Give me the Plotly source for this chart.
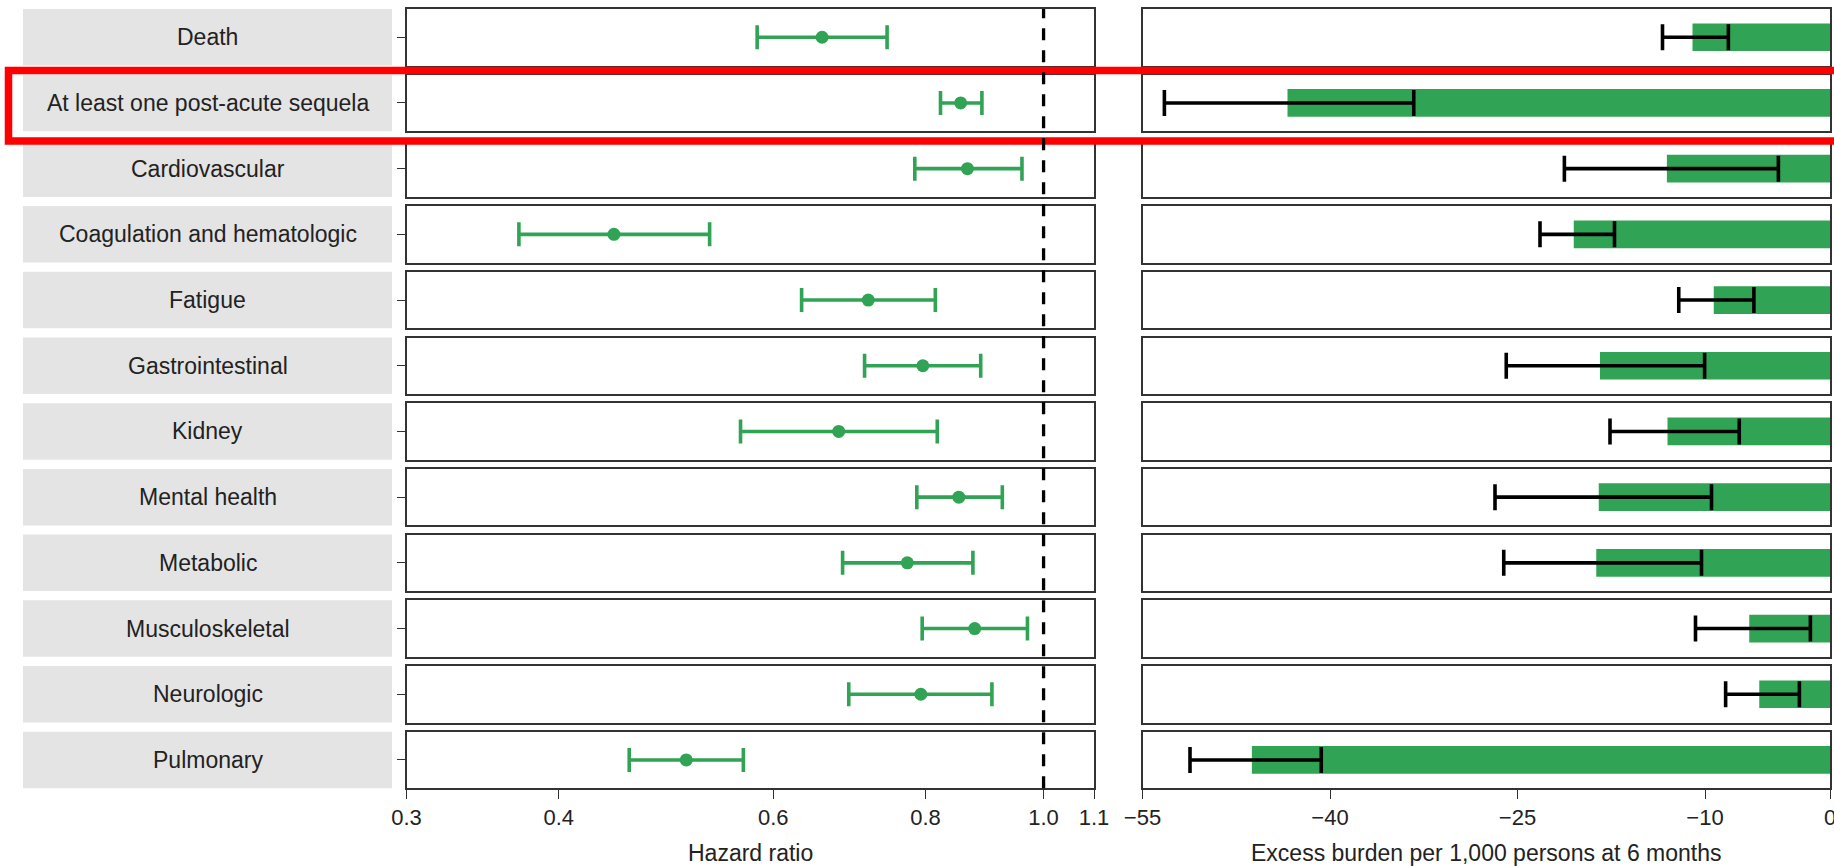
import math
import plotly.graph_objects as go

# ---------------- data ----------------
categories = [
    "Death",
    "At least one post-acute sequela",
    "Cardiovascular",
    "Coagulation and hematologic",
    "Fatigue",
    "Gastrointestinal",
    "Kidney",
    "Mental health",
    "Metabolic",
    "Musculoskeletal",
    "Neurologic",
    "Pulmonary",
]
hr_est = [0.658, 0.855, 0.866, 0.444, 0.718, 0.796, 0.679, 0.852, 0.773, 0.878, 0.793, 0.509]
hr_lo = [0.582, 0.823, 0.784, 0.371, 0.633, 0.713, 0.564, 0.787, 0.684, 0.795, 0.692, 0.457]
hr_hi = [0.744, 0.890, 0.960, 0.532, 0.815, 0.888, 0.818, 0.925, 0.875, 0.970, 0.907, 0.567]

eb_est = [-11.0, -43.4, -13.05, -20.5, -9.3, -18.4, -13.0, -18.5, -18.7, -6.46, -5.66, -46.25]
eb_lo = [-13.4, -53.25, -21.25, -23.2, -12.1, -25.9, -17.6, -26.8, -26.1, -10.76, -8.35, -51.2]
eb_hi = [-8.13, -33.3, -4.13, -17.24, -6.09, -10.03, -7.26, -9.48, -10.28, -1.57, -2.45, -40.7]

hr_ticks = [0.3, 0.4, 0.6, 0.8, 1.0, 1.1]
hr_ticktext = ["0.3", "0.4", "0.6", "0.8", "1.0", "1.1"]
eb_ticks = [-55, -40, -25, -10, 0]
eb_ticktext = ["\u221255", "\u221240", "\u221225", "\u221210", "0"]
hr_range = [0.3, 1.1]
eb_range = [-55, 0]
hr_ref = 1.0
highlight = "At least one post-acute sequela"

# ---------------- styling / layout ----------------
W, H = 1834, 866
GREEN = "#31a354"
FONT = "Liberation Sans, Arial, Helvetica, sans-serif"
TXT = "#222222"
LINE = "#333333"


def px_x(p):
    return p / W


def px_y(p):
    return 1 - p / H


TOP0, PITCH, PH = 9.0, 65.7, 56.5
LEFT_PX = (406.5, 1094.0)
RIGHT_PX = (1142.5, 1830.0)
STRIP_PX = (23.0, 392.0)

fig = go.Figure()
layout = dict(
    template="none",
    width=W,
    height=H,
    margin=dict(l=0, r=0, t=0, b=0, pad=0),
    paper_bgcolor="white",
    plot_bgcolor="white",
    showlegend=False,
    font=dict(family=FONT, size=22, color=TXT),
)
shapes = []
annotations = []
n = len(categories)
for i, cat in enumerate(categories):
    top = TOP0 + i * PITCH
    ydom = [px_y(top + PH), px_y(top)]
    ia, ib = 2 * i + 1, 2 * i + 2
    xa = "x" if ia == 1 else f"x{ia}"
    ya = "y" if ia == 1 else f"y{ia}"
    xb, yb = f"x{ib}", f"y{ib}"
    last = i == n - 1

    # hazard ratio point + CI
    fig.add_trace(go.Scatter(
        x=[hr_est[i]], y=[0], mode="markers",
        marker=dict(color=GREEN, size=13),
        error_x=dict(type="data", symmetric=False,
                     array=[hr_hi[i] - hr_est[i]],
                     arrayminus=[hr_est[i] - hr_lo[i]],
                     color=GREEN, thickness=3.6, width=12),
        xaxis=xa, yaxis=ya, hoverinfo="x",
    ))
    # excess burden bar + CI
    fig.add_trace(go.Bar(
        x=[eb_est[i]], y=[0], orientation="h", width=0.49,
        marker=dict(color=GREEN, line=dict(width=0)),
        error_x=dict(type="data", symmetric=False,
                     array=[eb_hi[i] - eb_est[i]],
                     arrayminus=[eb_est[i] - eb_lo[i]],
                     color="black", thickness=3.6, width=13),
        xaxis=xb, yaxis=yb, hoverinfo="x",
    ))

    common_x = dict(showline=True, mirror=True, linecolor=LINE, linewidth=1.5,
                    showgrid=False, zeroline=False, fixedrange=True, automargin=False,
                    ticklabeloverflow="allow")
    layout["xaxis" + ("" if ia == 1 else str(ia))] = dict(
        common_x, anchor=ya, domain=[px_x(LEFT_PX[0]), px_x(LEFT_PX[1])],
        type="log", range=[math.log10(hr_range[0]), math.log10(hr_range[1])],
        tickvals=hr_ticks, ticktext=hr_ticktext,
        ticks="outside" if last else "", ticklen=9, tickwidth=1.3, tickcolor=LINE,
        showticklabels=last,
        tickfont=dict(size=22, color=TXT, family=FONT),
    )
    layout[f"xaxis{ib}"] = dict(
        common_x, anchor=yb, domain=[px_x(RIGHT_PX[0]), px_x(RIGHT_PX[1])],
        range=eb_range, tickvals=eb_ticks, ticktext=eb_ticktext,
        ticks="outside" if last else "", ticklen=9, tickwidth=1.3, tickcolor=LINE,
        showticklabels=last,
        tickfont=dict(size=22, color=TXT, family=FONT),
    )
    layout["yaxis" + ("" if ia == 1 else str(ia))] = dict(
        anchor=xa, domain=ydom, range=[-0.5, 0.5], showgrid=False, zeroline=False,
        showline=True, mirror=True, linecolor=LINE, linewidth=1.5,
        tickvals=[0], ticks="outside", ticklen=8, tickwidth=1.3, tickcolor=LINE,
        showticklabels=False, fixedrange=True, automargin=False,
    )
    layout[f"yaxis{ib}"] = dict(
        anchor=xb, domain=ydom, range=[-0.5, 0.5], showgrid=False, zeroline=False,
        showline=True, mirror=True, linecolor=LINE, linewidth=1.5,
        ticks="", showticklabels=False, fixedrange=True, automargin=False,
    )

    # grey strip with category label
    shapes.append(dict(type="rect", xref="paper", yref="paper",
                       x0=px_x(STRIP_PX[0]), x1=px_x(STRIP_PX[1]),
                       y0=ydom[0], y1=ydom[1],
                       fillcolor="#e4e4e4", line=dict(width=0), layer="below"))
    annotations.append(dict(text=cat, xref="paper", yref="paper",
                            x=px_x((STRIP_PX[0] + STRIP_PX[1]) / 2),
                            y=(ydom[0] + ydom[1]) / 2,
                            xanchor="center", yanchor="middle", showarrow=False,
                            font=dict(size=23, color=TXT, family=FONT)))

    if cat == highlight:
        shapes.append(dict(type="rect", xref="paper", yref="paper",
                           x0=px_x(8.5), x1=1.02,
                           y0=px_y(141.0), y1=px_y(70.5),
                           line=dict(color="#ff0000", width=7.5),
                           fillcolor="rgba(0,0,0,0)", layer="above"))

# dashed reference line at HR = 1 across all panels
bottom_px = TOP0 + (n - 1) * PITCH + PH
shapes.append(dict(type="line", xref="x", yref="paper",
                   x0=hr_ref, x1=hr_ref, y0=px_y(bottom_px), y1=px_y(TOP0),
                   line=dict(color="black", width=3.3, dash="12px,10px"),
                   layer="above"))

# axis titles
annotations.append(dict(text="Hazard ratio", xref="paper", yref="paper",
                        x=px_x(sum(LEFT_PX) / 2), y=px_y(853),
                        xanchor="center", yanchor="middle", showarrow=False,
                        font=dict(size=23, color=TXT, family=FONT)))
annotations.append(dict(text="Excess burden per 1,000 persons at 6 months",
                        xref="paper", yref="paper",
                        x=px_x(sum(RIGHT_PX) / 2), y=px_y(853),
                        xanchor="center", yanchor="middle", showarrow=False,
                        font=dict(size=23, color=TXT, family=FONT)))

layout["shapes"] = shapes
layout["annotations"] = annotations
fig.update_layout(**layout)
fig.write_html("out.html")
